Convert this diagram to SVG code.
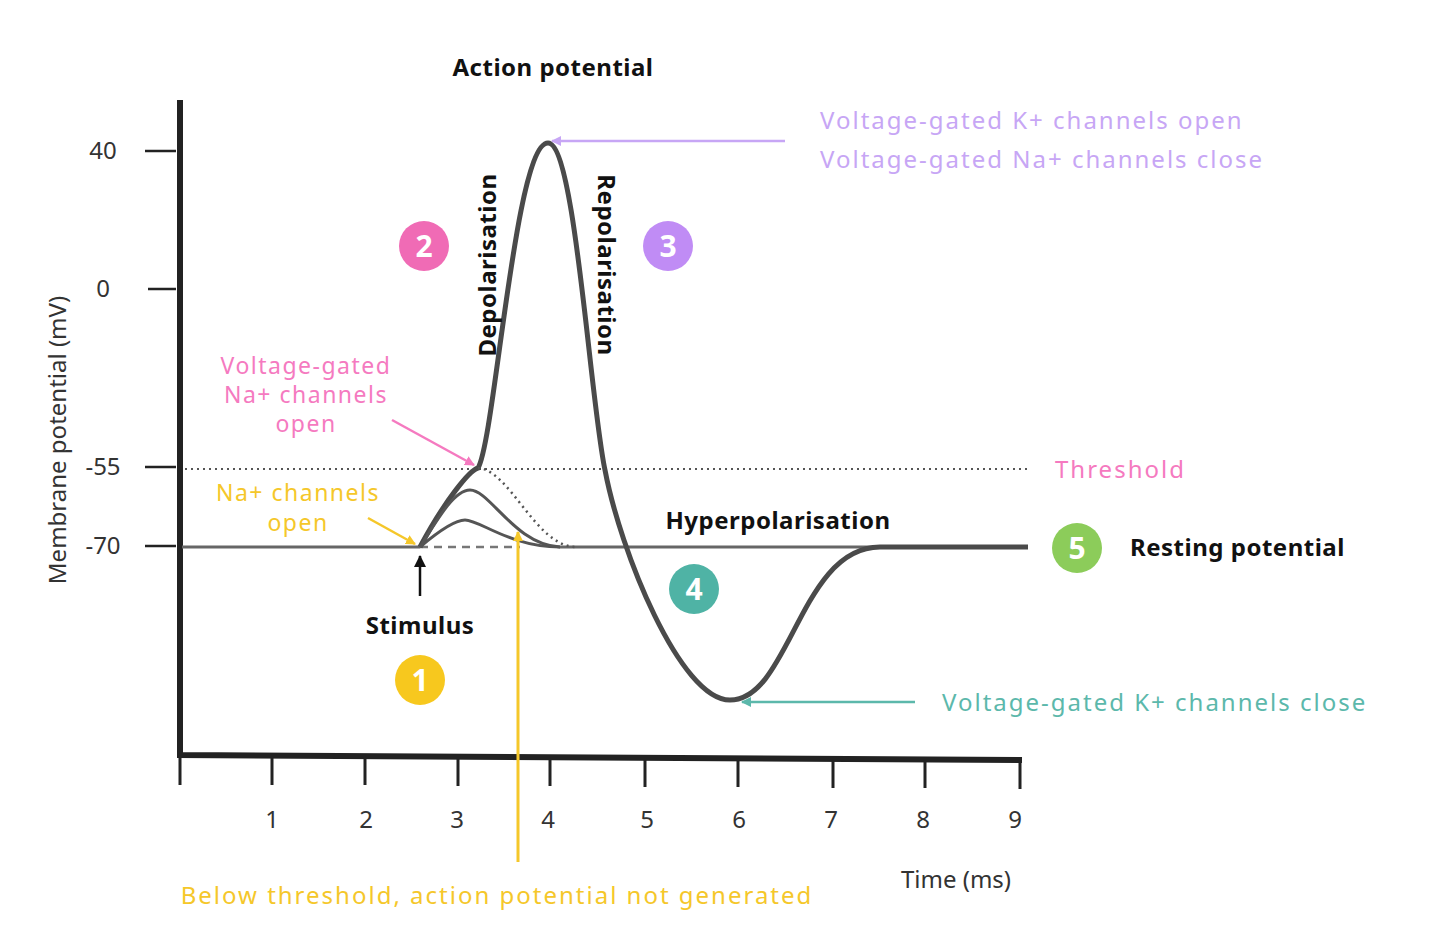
<svg xmlns="http://www.w3.org/2000/svg" width="1440" height="938" viewBox="0 0 1440 938">
<style>
text{font-family:"Noto Sans","Liberation Sans",sans-serif;font-size:24px}
.b{font-weight:bold;fill:#111;letter-spacing:0.5px}
.ax{fill:#333;font-size:23px}
.pu,.pk,.ye,.te{letter-spacing:2px}
.pu{fill:#c7a6f5}.pk{fill:#f57ac0}.ye{fill:#f5c72a}.te{fill:#5cb8ab}
.sm{font-size:23px;letter-spacing:1.5px}
.num{fill:#fff;font-weight:bold;font-size:30px;text-anchor:middle}
</style>
<defs>
<marker id="ap" markerWidth="10" markerHeight="10" refX="9" refY="5" orient="auto" markerUnits="userSpaceOnUse"><path d="M0,0L10,5L0,10z" fill="#c7a6f5"/></marker>
<marker id="ak" markerWidth="10" markerHeight="10" refX="9" refY="5" orient="auto" markerUnits="userSpaceOnUse"><path d="M0,0L10,5L0,10z" fill="#f57ac0"/></marker>
<marker id="ay" markerWidth="10" markerHeight="10" refX="9" refY="5" orient="auto" markerUnits="userSpaceOnUse"><path d="M0,0L10,5L0,10z" fill="#f5c72a"/></marker>
<marker id="at" markerWidth="10" markerHeight="10" refX="9" refY="5" orient="auto" markerUnits="userSpaceOnUse"><path d="M0,0L10,5L0,10z" fill="#5cb8ab"/></marker>
<marker id="ab" markerWidth="12" markerHeight="12" refX="11" refY="6" orient="auto" markerUnits="userSpaceOnUse"><path d="M0,0L12,6L0,12z" fill="#111"/></marker>
</defs>
<rect width="1440" height="938" fill="#fff"/>
<g id="axes" stroke="#222" fill="none">
<path d="M180,100V755L1022,760" stroke-width="6"/>
<path d="M180,755V785M272,755V785M365,755V785M458,756V786M550,756V786M645,757V787M738,757V787M833,758V788M925,758V788M1020,759V789" stroke-width="3"/>
<path d="M145,151H176M148,289H176M145,467H176M145,546H176" stroke-width="2.5"/>
</g>
<g id="axis-labels" class="ax">
<text x="103" y="159" text-anchor="middle">40</text>
<text x="103" y="297" text-anchor="middle">0</text>
<text x="103" y="475" text-anchor="middle">-55</text>
<text x="103" y="554" text-anchor="middle">-70</text>
<text x="272" y="828" text-anchor="middle">1</text>
<text x="366" y="828" text-anchor="middle">2</text>
<text x="457" y="828" text-anchor="middle">3</text>
<text x="548" y="828" text-anchor="middle">4</text>
<text x="647" y="828" text-anchor="middle">5</text>
<text x="739" y="828" text-anchor="middle">6</text>
<text x="831" y="828" text-anchor="middle">7</text>
<text x="923" y="828" text-anchor="middle">8</text>
<text x="1015" y="828" text-anchor="middle">9</text>
<text x="956" y="888" text-anchor="middle">Time (ms)</text>
<text transform="translate(66,440) rotate(-90)" text-anchor="middle">Membrane potential (mV)</text>
</g>
<text id="title" class="b" x="553" y="76" text-anchor="middle">Action potential</text>
<g id="connectors" fill="none">
<path d="M185,469H1028" stroke="#555" stroke-width="2" stroke-dasharray="2,4"/>
<path d="M182,547H420M560,547H1028" stroke="#666" stroke-width="3"/>
<path d="M420,547H520" stroke="#777" stroke-width="2.5" stroke-dasharray="8,6"/>
<path d="M420,547C445,500 470,470 478,468C495,440 515,143 548,143C575,143 590,400 605,470C620,550 680,700 730,700C790,700 800,547 880,547H1028" stroke="#4a4a4a" stroke-width="5"/>
<path d="M420,547C440,530 455,520 465,520C480,520 510,547 560,547" stroke="#555" stroke-width="3"/>
<path d="M420,547C440,515 455,490 470,490C490,490 515,545 560,547" stroke="#555" stroke-width="3"/>
<path d="M478,468C510,470 535,545 575,547" stroke="#555" stroke-width="2.5" stroke-dasharray="2,4"/>
<path d="M785,141H552" stroke="#c7a6f5" stroke-width="2.5" marker-end="url(#ap)"/>
<path d="M392,420L474,465" stroke="#f57ac0" stroke-width="2.5" marker-end="url(#ak)"/>
<path d="M368,518L415,544" stroke="#f5c72a" stroke-width="2.5" marker-end="url(#ay)"/>
<path d="M518,862V532" stroke="#f5c72a" stroke-width="3" marker-end="url(#ay)"/>
<path d="M915,702H742" stroke="#5cb8ab" stroke-width="2.5" marker-end="url(#at)"/>
<path d="M420,596V556" stroke="#111" stroke-width="2.5" marker-end="url(#ab)"/>
</g>
<g id="n1"><circle cx="420" cy="680" r="25" fill="#f7c81e"/><text class="num" x="420" y="691">1</text></g>
<g id="n2"><circle cx="424" cy="246" r="25" fill="#f06bb5"/><text class="num" x="424" y="257">2</text></g>
<g id="n3"><circle cx="668" cy="246" r="25" fill="#c08cf5"/><text class="num" x="668" y="257">3</text></g>
<g id="n4"><circle cx="694" cy="589" r="25" fill="#4fb3a5"/><text class="num" x="694" y="600">4</text></g>
<g id="n5"><circle cx="1077" cy="548" r="25" fill="#8ccc5a"/><text class="num" x="1077" y="559">5</text></g>
<g id="labels">
<text class="b" transform="translate(496,265) rotate(-90)" text-anchor="middle">Depolarisation</text>
<text class="b" transform="translate(598,265) rotate(90)" text-anchor="middle">Repolarisation</text>
<text class="pu" x="820" y="129">Voltage-gated K+ channels open</text>
<text class="pu" x="820" y="168">Voltage-gated Na+ channels close</text>
<text class="pk sm" x="306" y="374" text-anchor="middle">Voltage-gated</text>
<text class="pk sm" x="306" y="403" text-anchor="middle">Na+ channels</text>
<text class="pk sm" x="306" y="432" text-anchor="middle">open</text>
<text class="ye sm" x="298" y="501" text-anchor="middle">Na+ channels</text>
<text class="ye sm" x="298" y="531" text-anchor="middle">open</text>
<text class="b" x="420" y="634" text-anchor="middle">Stimulus</text>
<text class="ye" x="497" y="904" text-anchor="middle">Below threshold, action potential not generated</text>
<text class="pk" x="1055" y="478">Threshold</text>
<text class="b" x="778" y="529" text-anchor="middle">Hyperpolarisation</text>
<text class="b" x="1130" y="556">Resting potential</text>
<text class="te" x="942" y="711">Voltage-gated K+ channels close</text>
</g>
</svg>
